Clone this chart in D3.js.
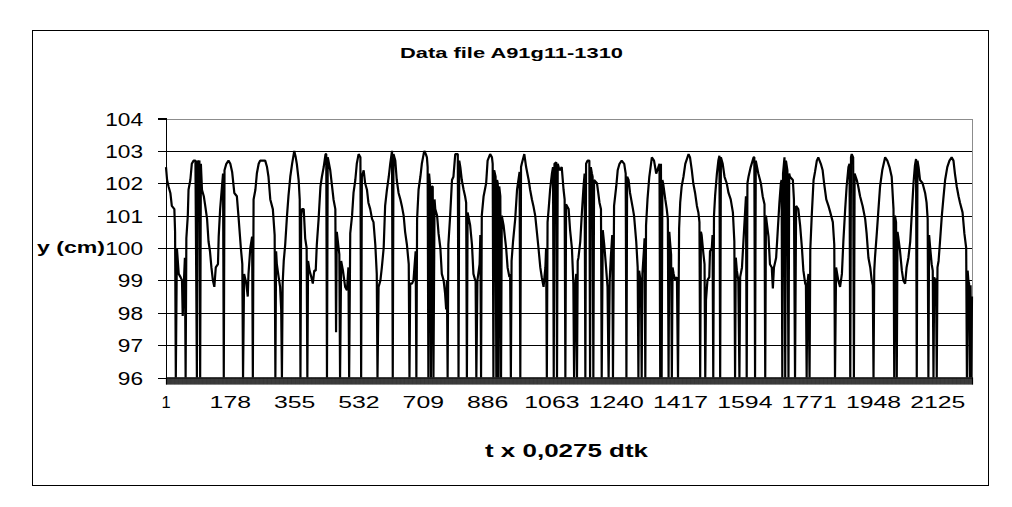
<!DOCTYPE html>
<html><head><meta charset="utf-8">
<script src="https://cdn.jsdelivr.net/npm/d3@7"></script>
<style>body{margin:0;background:#fff}svg{display:block}</style>
</head><body>
<svg id="c" width="1012" height="507"></svg>
<script>
const chartTitle = "Data file A91g11-1310";
const xTitle = "t x 0,0275 dtk";
const yTitle = "y (cm)";
const nPoints = 2219;
const xTickLabels = [1,178,355,532,709,886,1063,1240,1417,1594,1771,1948,2125];
const yTickValues = [96,97,98,99,100,101,102,103,104];
// [sample index, y in cm]; 96 marks drop-outs that fall to the axis floor
const samples = [[1,102.5],[4,102.1],[8,101.9],[13,101.7],[17,101.3],[24,101.2],[26,100.5],[28,96],[31,100.0],[36,99.2],[41,99.1],[45,99.0],[47,97.9],[50,98.9],[53,99.7],[55,96],[57,100.3],[61,101.0],[63,101.8],[68,102.1],[72,102.6],[77,102.7],[82,102.7],[86,96],[88,102.7],[90,102.6],[93,102.7],[95,96],[97,102.6],[100,101.8],[105,101.6],[109,101.3],[114,100.9],[118,100.2],[122,99.9],[126,99.4],[130,99.0],[134,98.8],[138,99.4],[144,99.5],[146,100.35],[150,101.2],[155,101.9],[158,102.3],[160,96],[162,102.4],[167,102.6],[173,102.7],[178,102.6],[183,102.35],[189,101.7],[196,101.6],[201,100.9],[207,100.0],[211,99.5],[213,96],[216,99.2],[222,98.9],[226,98.5],[228,99.2],[233,100.0],[238,100.35],[240,96],[242,101.5],[247,101.8],[251,102.3],[256,102.6],[260,102.7],[267,102.7],[274,102.7],[279,102.5],[283,102.2],[288,101.5],[295,101.2],[300,100.4],[302,96],[304,99.9],[306,99.5],[311,99.1],[315,98.8],[318,98.1],[320,96],[322,98.9],[325,99.6],[329,100.1],[334,101.0],[338,101.6],[343,102.2],[348,102.6],[354,103.0],[358,102.8],[361,102.6],[366,102.1],[369,101.5],[371,96],[373,101.0],[375,101.2],[380,101.2],[384,100.3],[388,100.0],[390,96],[392,99.6],[396,99.3],[401,99.1],[405,98.9],[409,99.3],[413,99.3],[416,100.1],[421,100.9],[426,101.9],[430,102.2],[435,102.5],[440,102.9],[442,102.9],[444,96],[446,102.8],[448,102.7],[453,102.4],[458,101.9],[462,101.5],[467,101.2],[469,97.4],[471,100.5],[476,100.0],[478,99.8],[480,96],[483,99.6],[488,99.3],[494,98.8],[499,98.7],[503,99.4],[505,96],[508,100.45],[513,101.0],[517,101.7],[522,102.1],[526,102.6],[531,102.9],[536,102.8],[538,96],[540,102.2],[545,102.4],[549,102.0],[554,101.8],[558,101.4],[563,101.2],[568,100.9],[572,100.8],[577,100.1],[581,99.2],[583,96],[586,98.8],[591,99.0],[595,99.4],[600,100.0],[604,101.3],[609,101.8],[614,102.2],[618,102.6],[623,103.0],[625,96],[627,102.9],[632,102.7],[636,102.1],[641,101.7],[646,101.5],[650,101.3],[655,101.0],[659,100.5],[664,100.1],[669,99.5],[671,96],[673,98.9],[678,98.9],[682,99.0],[686,99.6],[688,99.9],[690,96],[692,100.9],[696,101.8],[701,102.2],[705,102.6],[710,102.9],[712,103.0],[716,102.9],[719,102.8],[721,102.5],[723,96],[725,102.3],[728,101.9],[730,96],[733,101.9],[735,101.9],[737,96],[740,101.5],[742,101.2],[747,101.0],[751,100.45],[756,100.0],[760,99.2],[765,99.0],[769,98.6],[772,98.1],[774,99.0],[776,96],[778,100.1],[783,101.0],[788,102.1],[792,102.2],[797,102.9],[802,102.9],[804,102.9],[806,96],[808,102.7],[811,102.5],[815,102.1],[820,101.8],[824,101.6],[827,101.4],[829,96],[831,101.1],[838,100.7],[843,100.1],[847,99.2],[852,99.0],[853,99.0],[855,96],[858,99.0],[864,99.5],[866,100.4],[868,96],[870,101.0],[875,101.6],[882,102.0],[886,102.7],[893,102.9],[898,102.8],[900,102.6],[902,96],[904,102.4],[908,102.2],[910,96],[912,102.1],[914,102.0],[916,96],[918,101.9],[921,101.6],[923,96],[925,101.0],[930,100.7],[937,100.0],[941,99.4],[946,99.1],[948,99.2],[950,96],[952,99.6],[956,100.2],[962,100.9],[967,101.8],[974,102.35],[976,96],[978,102.5],[980,102.6],[987,102.9],[992,102.5],[999,102.1],[1003,101.8],[1008,101.5],[1012,101.3],[1017,101.0],[1022,100.45],[1026,100.0],[1031,99.4],[1035,99.1],[1040,98.8],[1045,99.4],[1047,100.0],[1049,96],[1051,100.8],[1054,101.2],[1058,101.8],[1063,102.3],[1066,102.5],[1068,96],[1070,102.6],[1075,102.65],[1077,96],[1079,102.6],[1084,102.4],[1090,102.5],[1095,101.8],[1098,101.5],[1100,96],[1102,101.35],[1104,101.3],[1109,101.2],[1113,100.55],[1118,100.0],[1122,98.9],[1124,96],[1127,98.8],[1130,99.2],[1132,96],[1134,99.6],[1136,99.7],[1141,100.2],[1145,101.0],[1150,101.9],[1153,102.3],[1155,96],[1157,102.6],[1161,102.7],[1166,102.7],[1168,96],[1170,102.5],[1173,102.3],[1175,102.2],[1177,96],[1179,102.1],[1187,102.0],[1194,101.4],[1198,101.2],[1200,96],[1203,100.55],[1207,100.1],[1212,99.4],[1216,98.8],[1219,96],[1222,99.0],[1225,99.7],[1229,100.4],[1231,96],[1234,101.3],[1240,101.9],[1244,102.4],[1249,102.6],[1255,102.7],[1262,102.6],[1266,102.3],[1268,96],[1270,102.2],[1274,102.1],[1278,101.7],[1286,101.2],[1289,101.0],[1295,100.2],[1299,99.4],[1301,96],[1303,99.3],[1308,98.9],[1310,96],[1312,99.2],[1316,99.9],[1318,100.3],[1320,96],[1322,100.7],[1326,101.5],[1331,102.2],[1338,102.8],[1344,102.7],[1350,102.3],[1356,102.5],[1359,102.6],[1361,96],[1363,102.6],[1365,96],[1367,102.1],[1369,102.0],[1375,101.5],[1379,101.2],[1382,100.9],[1384,96],[1386,100.5],[1388,100.2],[1391,99.8],[1393,96],[1395,99.4],[1398,99.2],[1402,99.0],[1407,99.1],[1410,96],[1413,100.6],[1416,101.4],[1420,101.9],[1425,102.2],[1430,102.6],[1439,102.9],[1443,102.8],[1448,102.4],[1452,102.0],[1457,101.7],[1462,101.3],[1466,101.1],[1469,100.8],[1471,96],[1473,100.5],[1475,100.4],[1480,99.8],[1483,99.5],[1485,96],[1487,98.4],[1491,99.0],[1496,99.1],[1498,99.9],[1503,100.0],[1505,100.4],[1507,96],[1509,101.0],[1512,101.6],[1517,102.3],[1521,102.7],[1524,102.85],[1526,96],[1528,102.8],[1533,102.6],[1538,102.2],[1544,102.0],[1549,101.7],[1555,101.5],[1561,101.1],[1565,100.2],[1567,96],[1569,99.7],[1572,99.3],[1576,99.0],[1579,96],[1581,99.1],[1586,99.4],[1590,100.2],[1595,101.2],[1597,101.6],[1599,96],[1601,102.0],[1604,102.2],[1610,102.5],[1618,102.8],[1620,102.8],[1622,96],[1624,102.7],[1631,102.3],[1638,102.0],[1643,101.6],[1648,101.35],[1650,96],[1652,101.0],[1654,100.8],[1659,100.35],[1663,99.5],[1668,99.4],[1671,98.75],[1674,99.4],[1680,99.7],[1684,100.45],[1689,101.4],[1693,102.0],[1695,102.1],[1697,96],[1699,102.3],[1703,102.8],[1705,96],[1707,102.7],[1711,102.4],[1714,96],[1716,102.3],[1718,102.2],[1726,102.1],[1729,101.5],[1732,96],[1735,101.3],[1741,101.2],[1746,100.7],[1751,100.0],[1755,99.3],[1760,98.9],[1762,98.85],[1764,96],[1766,98.9],[1769,99.2],[1772,96],[1774,99.95],[1778,101.0],[1783,102.1],[1787,102.35],[1792,102.7],[1796,102.8],[1803,102.6],[1808,102.4],[1812,102.0],[1818,101.5],[1824,101.3],[1829,101.1],[1836,100.8],[1840,100.1],[1842,96],[1845,99.4],[1851,99.0],[1856,98.8],[1861,99.2],[1865,100.2],[1870,101.2],[1874,101.9],[1879,102.5],[1882,102.6],[1884,96],[1886,102.8],[1888,102.9],[1892,102.8],[1894,96],[1896,102.3],[1902,102.1],[1906,101.9],[1911,101.6],[1918,101.3],[1925,100.9],[1929,100.45],[1934,99.7],[1939,99.4],[1943,99.0],[1946,98.85],[1948,96],[1950,99.3],[1952,99.7],[1957,100.45],[1961,101.1],[1966,101.9],[1972,102.4],[1980,102.8],[1986,102.7],[1992,102.5],[1998,102.2],[2003,101.2],[2005,96],[2007,101.0],[2010,100.8],[2012,96],[2014,100.5],[2016,100.35],[2021,99.9],[2026,99.3],[2030,99.0],[2035,98.9],[2039,99.4],[2044,99.7],[2049,100.2],[2053,101.0],[2058,102.0],[2062,102.55],[2065,102.75],[2067,96],[2069,102.7],[2072,102.5],[2076,102.1],[2083,102.0],[2090,101.7],[2094,101.4],[2097,100.9],[2099,96],[2101,100.4],[2104,100.0],[2108,99.5],[2111,99.3],[2113,96],[2115,99.1],[2117,99.0],[2120,99.05],[2122,96],[2124,99.4],[2127,99.6],[2131,100.2],[2136,101.0],[2140,101.5],[2145,102.1],[2151,102.5],[2157,102.7],[2163,102.8],[2168,102.7],[2172,102.3],[2177,101.9],[2182,101.6],[2186,101.4],[2193,101.1],[2198,100.45],[2203,100.0],[2205,96],[2207,99.3],[2209,99.0],[2211,98.9],[2213,96],[2215,98.85],[2217,96],[2219,98.5]];

const FONT = "'Liberation Sans', Arial, Helvetica, sans-serif";
const svg = d3.select("#c");
svg.append("rect").attr("width",1012).attr("height",507).attr("fill","#fff");
svg.append("rect").attr("x",32.5).attr("y",30.5).attr("width",956).attr("height",455)
   .attr("fill","none").attr("stroke","#000").attr("stroke-width",1);

const plot = {l:166, r:972, t:118.5, b:377.5};
const x = d3.scaleLinear().domain([1, nPoints]).range([plot.l, plot.r]);
const y = d3.scaleLinear().domain([96, 104]).range([plot.b, plot.t]);

// gridlines
const grid = svg.append("g").attr("shape-rendering","crispEdges");
grid.selectAll("line").data(yTickValues.filter(v => v > 96 && v < 104)).join("line")
  .attr("x1", plot.l).attr("x2", plot.r)
  .attr("y1", d => Math.round(y(d)) + 0.5).attr("y2", d => Math.round(y(d)) + 0.5)
  .attr("stroke", "#000").attr("stroke-width", 1);
// plot-area border (top & right, gray)
grid.append("path")
  .attr("d", `M${plot.l},${Math.round(y(104))+0.5}H${plot.r+0.5}V${plot.b}`)
  .attr("fill","none").attr("stroke","#8c8c8c").attr("stroke-width",1.5);

// category tick band under the x axis
const catTicks = d3.range(1, nPoints + 1, 1);
const xAxis = d3.axisBottom(x).tickValues(catTicks).tickSize(7).tickFormat("");
const gx = svg.append("g").attr("transform", `translate(0,${plot.b})`).call(xAxis);
gx.selectAll(".tick line").attr("stroke","#000").attr("stroke-width",0.45);
gx.select(".domain").attr("stroke","#000").attr("stroke-width",1.2);

// y axis
const yAxis = d3.axisLeft(y).tickValues(yTickValues).tickSize(8).tickFormat("");
const gy = svg.append("g").attr("transform", `translate(${plot.l},0)`).attr("shape-rendering","crispEdges").call(yAxis);
gy.selectAll(".tick line").attr("stroke","#000");
gy.select(".domain").attr("stroke","#000").attr("d", `M-8,${plot.t}H0V${plot.b}`);

// y labels
svg.append("g").selectAll("text").data(yTickValues).join("text")
  .attr("x", 143).attr("y", d => y(d) + 7)
  .attr("text-anchor","end")
  .attr("font-family", FONT).attr("font-size", 19).attr("fill","#000")
  .attr("textLength", d => String(d).length * 12.6).attr("lengthAdjust","spacingAndGlyphs")
  .text(d => d);

// x labels
svg.append("g").selectAll("text").data(xTickLabels).join("text")
  .attr("x", d => x(d)).attr("y", 408)
  .attr("text-anchor","middle")
  .attr("font-family", FONT).attr("font-size", 16.5).attr("fill","#000")
  .each(function(d){ const s = String(d); if (s.length > 1) d3.select(this).attr("textLength", s.length*13.8).attr("lengthAdjust","spacingAndGlyphs"); })
  .text(d => d);

// data line
const line = d3.line().x(d => x(d[0])).y(d => y(d[1]));
svg.append("path").datum(samples)
  .attr("d", line).attr("fill","none").attr("stroke","#000")
  .attr("stroke-width", 2.2).attr("stroke-linejoin","bevel");

// titles
svg.append("text").attr("x", 511.5).attr("y", 58.3).attr("text-anchor","middle")
  .attr("font-family", FONT).attr("font-weight","bold").attr("font-size", 15.4)
  .attr("textLength", 223).attr("lengthAdjust","spacingAndGlyphs").text(chartTitle);
svg.append("text").attr("x", 566.5).attr("y", 456.7).attr("text-anchor","middle")
  .attr("font-family", FONT).attr("font-weight","bold").attr("font-size", 19)
  .attr("textLength", 163).attr("lengthAdjust","spacingAndGlyphs").text(xTitle);
svg.append("text").attr("x", 37).attr("y", 253)
  .attr("font-family", FONT).attr("font-weight","bold").attr("font-size", 17)
  .attr("textLength", 68).attr("lengthAdjust","spacingAndGlyphs").text(yTitle);
</script>
</body></html>
